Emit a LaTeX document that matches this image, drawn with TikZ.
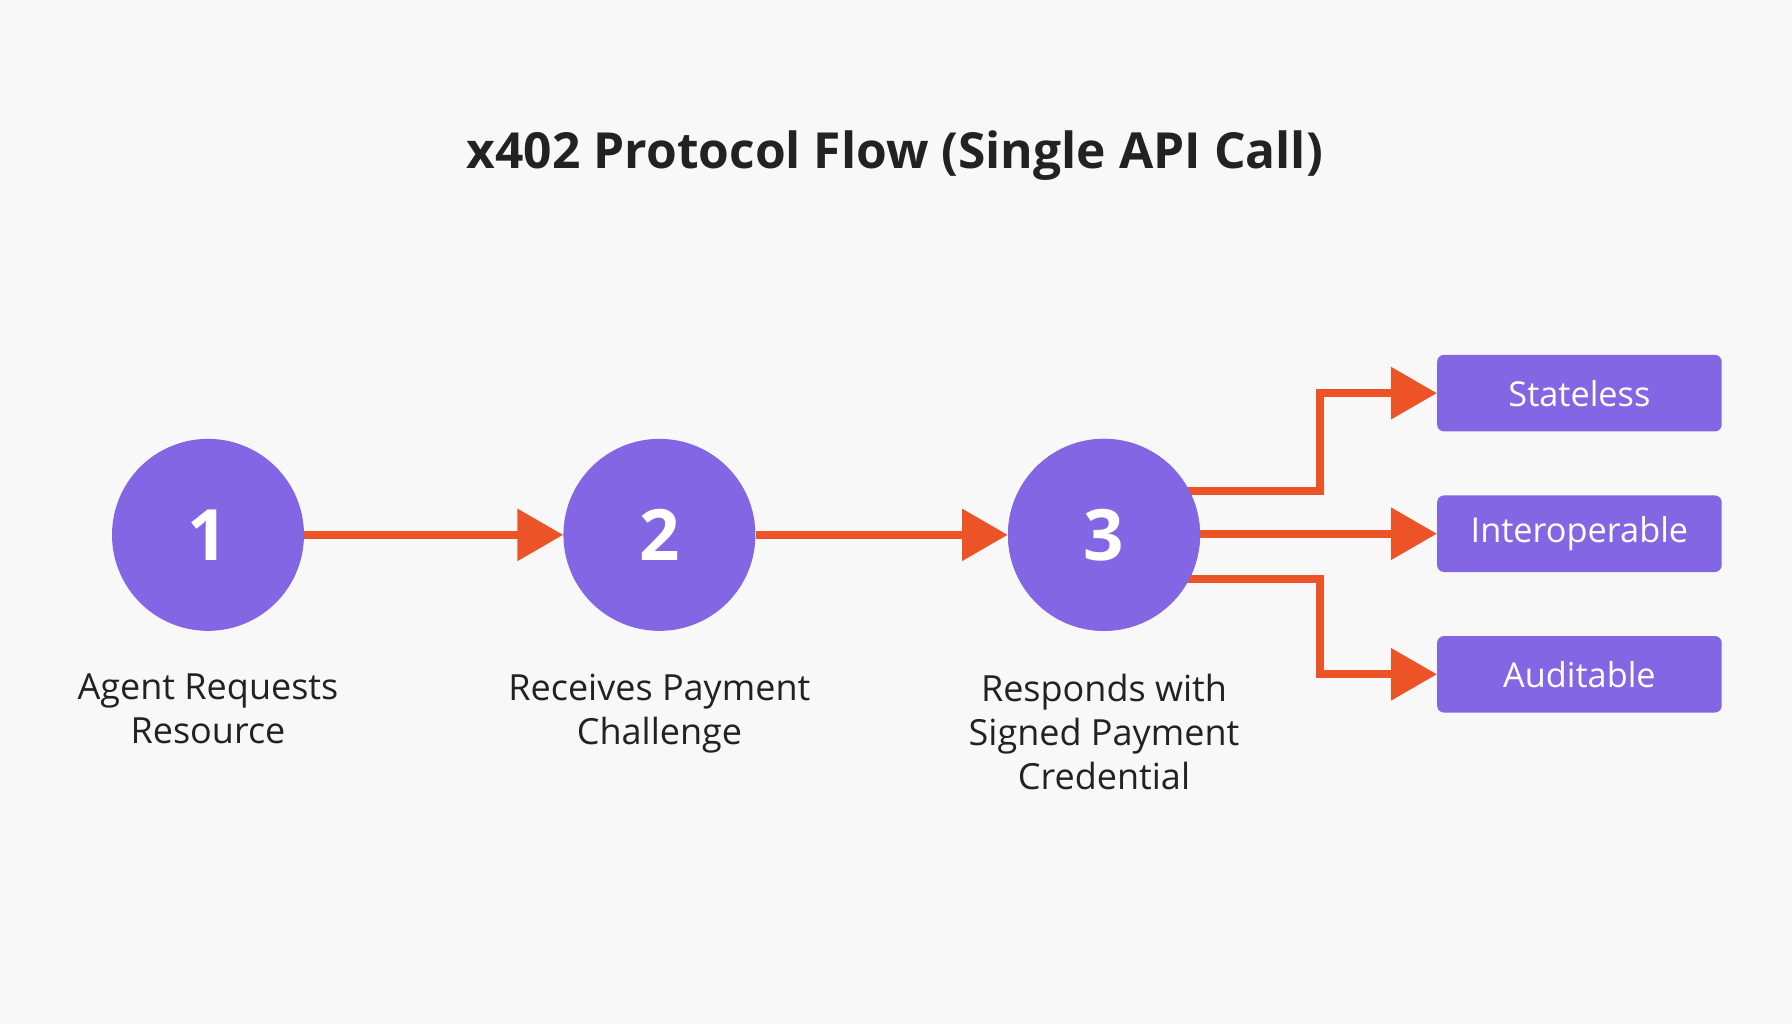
\documentclass[tikz,border=0pt]{standalone}
\usepackage{fontspec}
\setmainfont{Open Sans}
\usetikzlibrary{arrows.meta}
\definecolor{bg}{HTML}{F8F8F8}
\definecolor{purp}{HTML}{8366E3}
\definecolor{orng}{HTML}{EC5428}
\definecolor{txt}{HTML}{222222}
\tikzset{
 stepcirc/.style={circle,fill=purp,minimum size=168pt,inner sep=0pt,text=white,font=\fontsize{62}{62}\selectfont\bfseries},
 featbox/.style={rectangle,rounded corners=6pt,fill=purp,minimum width=249pt,minimum height=67pt,text=white,font=\fontsize{30}{30}\selectfont},
 lbl/.style={align=center,text=txt,font=\fontsize{31.5}{38.5}\selectfont},
 flow/.style={draw=orng,line width=7pt,-{Triangle[length=40pt,width=44pt]}},
}
\begin{document}
\begin{tikzpicture}[x=1pt,y=-1pt]
\fill[bg] (0,0) rectangle (1568,896);
\useasboundingbox (0,0) rectangle (1568,896);
\node[text=txt,font=\fontsize{43.5}{44}\selectfont\bfseries] (title) at (783,136) {x402 Protocol Flow (Single API Call)};
\node[stepcirc] (c1) at (182,468) {1};
\node[stepcirc] (c2) at (577,468) {2};
\node[stepcirc] (c3) at (966,468) {3};
\node[featbox] (b1) at (1382,344) {Stateless};
\node[featbox] (b2) at (1382,467) {Interoperable};
\node[featbox] (b3) at (1382,590) {Auditable};
\node[lbl,anchor=north] (l1) at (182,586) {Agent Requests\\Resource};
\node[lbl,anchor=north] (l2) at (577,586) {Receives Payment\\Challenge};
\node[lbl,anchor=north] (l3) at (966,586) {Responds with\\Signed Payment\\Credential};
\draw[flow] (c1) -- (c2);
\draw[flow] (c2) -- (c3);
\draw[flow] (c3.east |- b2.west) -- (b2.west);
\coordinate (t0) at (1038,430);
\coordinate (d0) at (1038,507);
\draw[flow,line join=miter] (t0) -- (1155,430) -- (1155,344) -- (b1.west);
\draw[flow,line join=miter] (d0) -- (1155,507) -- (1155,590) -- (b3.west);
\node[stepcirc] at (c3) {3};
\end{tikzpicture}
\end{document}
